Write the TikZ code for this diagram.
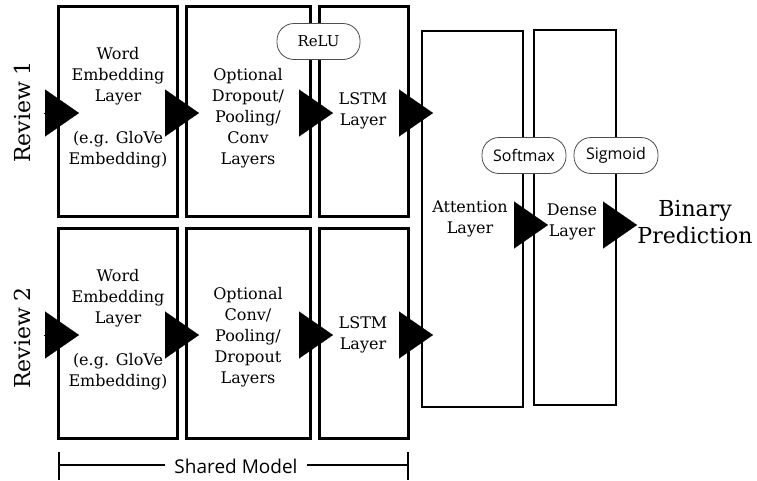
\documentclass[tikz,border=0pt]{standalone}
\usepackage{fontspec}
\setmainfont{DejaVu Serif}
\newfontfamily\labelsans{Open Sans}
\usetikzlibrary{arrows.meta}

\begin{document}
\begin{tikzpicture}[x=1pt,y=-1pt,
  layerbox/.style={draw, line width=3pt, minimum width=#1, minimum height=210pt, inner sep=0pt},
  widebox/.style={draw, line width=2pt, inner sep=0pt},
  boxtext/.style={align=center, inner sep=0pt, font=\fontsize{16}{21}\selectfont},
  review/.style={rotate=90, inner sep=0pt, font=\fontsize{22}{26}\selectfont},
  pill/.style={draw=black!70, line width=0.8pt, fill=white, rounded corners=17pt,
    minimum width=#1, minimum height=36pt, inner sep=0pt},
  bigarrow/.style={-{Triangle[length=34pt,width=47pt]}, line width=0.1pt},
  bracket/.style={line width=2pt}
]
\useasboundingbox (0,0) rectangle (757,480);

% first branch
\node[layerbox=119pt] (b11) at (118,111.5) {};
\node[layerbox=124pt] (b12) at (248.5,111.5) {};
\node[layerbox=89pt]  (b13) at (364,111.5) {};
% second branch
\node[layerbox=119pt] (b21) at (118,333.5) {};
\node[layerbox=124pt] (b22) at (248.5,333.5) {};
\node[layerbox=89pt]  (b23) at (364,333.5) {};
% merged layers
\node[widebox, minimum width=101pt, minimum height=376pt] (att) at (472.5,219) {};
\node[widebox, minimum width=82pt, minimum height=375pt] (den) at (575,217.5) {};

% layer captions
\node[boxtext] (t11) at (118,108) {Word\\Embedding\\Layer\\[21pt](e.g. GloVe\\Embedding)};
\node[boxtext] (t12) at (248,118) {Optional\\Dropout/\\Pooling/\\Conv\\Layers};
\node[boxtext] (t13) at (363,111) {LSTM\\Layer};
\node[boxtext] (t21) at (118,330) {Word\\Embedding\\Layer\\[21pt](e.g. GloVe\\Embedding)};
\node[boxtext] (t22) at (248,337) {Optional\\Conv/\\Pooling/\\Dropout\\Layers};
\node[boxtext] (t23) at (363,335) {LSTM\\Layer};
\node[boxtext] (tatt) at (470,219) {Attention\\Layer};
\node[boxtext] (tden) at (572,222) {Dense\\Layer};
\node[align=center, inner sep=0pt, font=\fontsize{22}{27}\selectfont] (out) at (695,222) {Binary\\Prediction};

% inputs
\node[review] (r1) at (22,112) {Review 1};
\node[review] (r2) at (22,338) {Review 2};

% flow arrows, first branch
\coordinate (in1) at (44,113);
\draw[bigarrow] (in1) -- ([xshift=22pt,yshift=-1.5pt]b11.west);
\draw[bigarrow] ([xshift=-14pt,yshift=-1.5pt]b11.east) -- ([xshift=14pt,yshift=-1.5pt]b12.west);
\draw[bigarrow] ([xshift=-12pt,yshift=-1.5pt]b12.east) -- ([xshift=15pt,yshift=-1.5pt]b13.west);
\coordinate (aw1) at (att.west |- in1);
\draw[bigarrow] ([xshift=-11pt,yshift=-1.5pt]b13.east) -- ([xshift=12pt]aw1);
% flow arrows, second branch
\coordinate (in2) at (44,335);
\draw[bigarrow] (in2) -- ([xshift=22pt,yshift=-1.5pt]b21.west);
\draw[bigarrow] ([xshift=-14pt,yshift=-1.5pt]b21.east) -- ([xshift=14pt,yshift=-1.5pt]b22.west);
\draw[bigarrow] ([xshift=-12pt,yshift=-1.5pt]b22.east) -- ([xshift=15pt,yshift=-1.5pt]b23.west);
\coordinate (aw2) at (att.west |- in2);
\draw[bigarrow] ([xshift=-11pt,yshift=-1.5pt]b23.east) -- ([xshift=12pt]aw2);
% head
\coordinate (lv) at (0,225);
\coordinate (ae) at (att.east |- lv);
\coordinate (dw) at (den.west |- lv);
\coordinate (de) at (den.east |- lv);
\draw[bigarrow] ([xshift=-9pt]ae) -- ([xshift=15pt]dw);
\draw[bigarrow] ([xshift=-14pt]de) -- ([xshift=20pt]de);

% activations
\node[pill=83pt, font=\fontsize{15}{18}\selectfont] (relu) at (318.5,41.5) {ReLU};
\node[pill=84pt, font=\labelsans\fontsize{16}{19}\selectfont] (soft) at (524,155.5) {Softmax};
\node[pill=84pt, font=\labelsans\fontsize{16}{19}\selectfont] (sig) at (616,155.5) {Sigmoid};

% shared-model bracket
\node[inner xsep=9pt, inner ysep=0pt, font=\labelsans\fontsize{19}{22}\selectfont] (sm) at (236,466) {Shared Model};
\coordinate (sL) at (59,465);
\coordinate (sR) at (408,465);
\draw[bracket] (sL) -- (sm.west |- sL);
\draw[bracket] (sm.east |- sR) -- (sR);
\draw[bracket] (59,452) -- (59,480);
\draw[bracket] (408,452) -- (408,480);
\end{tikzpicture}
\end{document}
